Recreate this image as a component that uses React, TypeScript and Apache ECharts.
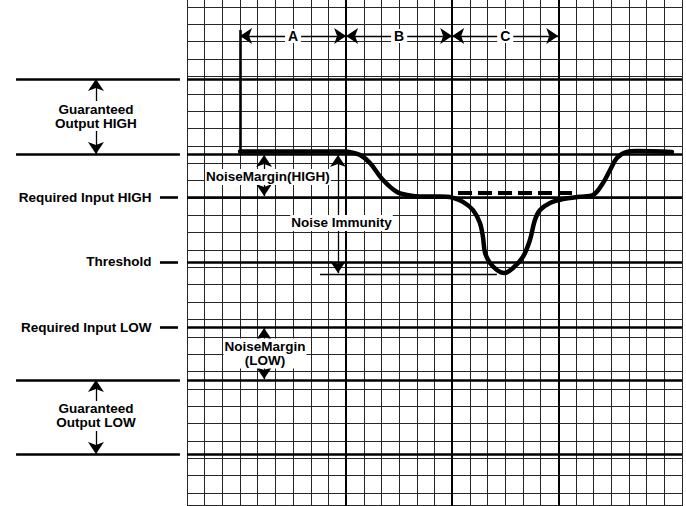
import React, { useEffect, useRef } from "react";
import * as echarts from "echarts";

// ---- axes (graph-paper units) ----
const X_MIN = 0;
const X_MAX = 28;
const Y_MIN = 0;
const Y_MAX = 28;
// paper continues a little beyond the axis range (top and bottom of page)
const PAPER_TOP = 28.41;
const PAPER_BOTTOM = -0.75;

// ---- logic levels (grid units) ----
const levelY = [23.85, 19.53, 17.05, 13.31, 9.56, 6.51, 2.25];
const levelKind = ["long", "long", "short", "short", "short", "long", "long"];
const levelLabels = ["", "", "Required Input HIGH", "Threshold", "Required Input LOW", "", ""];

// ---- timing phases ----
const phaseBounds = [3, 9, 15, 21];
const phaseLabels = ["A", "B", "C"];
const phaseArrowY = 26.33;
const markerTopY = 26.67;

// ---- signal waveform ----
const waveX = [3, 9, 9.22, 9.79, 10.35, 11.09, 11.88, 12.61, 13.18, 14.31, 15, 15.61, 16.18, 16.57, 16.74, 16.86, 17.14, 17.53, 17.93, 18.44, 19.0, 19.4, 19.68, 19.97, 20.53, 21.27, 22.23, 22.96, 23.53, 23.93, 24.32, 24.89, 25.45, 27.43];
const waveY = [19.68, 19.68, 19.64, 19.47, 19.01, 18.03, 17.34, 17.14, 17.08, 17.08, 17.02, 16.77, 16.3, 15.56, 14.75, 13.83, 13.25, 12.85, 12.67, 12.96, 13.6, 14.58, 15.73, 16.3, 16.71, 16.94, 17.07, 17.17, 17.86, 18.61, 19.3, 19.65, 19.7, 19.65];

// ---- reference dashed level during C and noise-immunity floor ----
const dashX = [15.33, 22.06];
const dashY = 17.28;
const floorX = [7.52, 17.53];
const floorY = 12.62;

// ---- annotations ----
const bandLabels = ["Guaranteed\nOutput HIGH", "Guaranteed\nOutput LOW"];
const bandArrowX = -5.15;
const bandTop = [23.85, 6.51];
const bandBottom = [19.53, 2.25];
const bandTextY = [21.72, 4.44];

const marginLabels = ["NoiseMargin(HIGH)", "Noise Immunity", "NoiseMargin\n(LOW)"];
const marginArrowX = [4.36, 8.54, 4.36];
const marginArrowTop = [19.47, 19.47, 9.5];
const marginArrowBottom = [17.11, 12.67, 6.57];
const marginTextX = [4.58, 8.74, 4.41];
const marginTextY = [18.21, 15.56, 8.04];

const LONG_LINE_X = [-9.67, -0.4];
const SHORT_DASH_X = [-1.53, -0.51];

const INK = "#000";
const FONT = "'Liberation Sans', Arial, Helvetica, sans-serif";

export default function App() {
  const ref = useRef<HTMLDivElement>(null);

  useEffect(() => {
    if (!ref.current) return;
    const chart = echarts.init(ref.current, undefined, { renderer: "svg" });

    const seg = (a: number[], b: number[]) => ({ coords: [a, b] });

    // paper extension beyond the axis range
    const paperExt: any[] = [];
    for (let x = X_MIN; x <= X_MAX; x++) {
      paperExt.push(seg([x, Y_MAX], [x, PAPER_TOP]));
      paperExt.push(seg([x, PAPER_BOTTOM], [x, Y_MIN]));
    }
    paperExt.push(seg([X_MIN, PAPER_BOTTOM + 0.04], [X_MAX, PAPER_BOTTOM + 0.04]));

    const dividerSegs = phaseBounds.slice(1).map((x) => seg([x, PAPER_BOTTOM], [x, PAPER_TOP]));
    const levelGridSegs = levelY.map((y) => seg([X_MIN, y], [X_MAX, y]));
    const leftSegs = levelY.map((y, i) =>
      levelKind[i] === "long" ? seg([LONG_LINE_X[0], y], [LONG_LINE_X[1], y]) : seg([SHORT_DASH_X[0], y], [SHORT_DASH_X[1], y])
    );
    const phaseArrowSegs = phaseLabels.map((_, i) => seg([phaseBounds[i], phaseArrowY], [phaseBounds[i + 1], phaseArrowY]));
    const bandArrowSegs = bandLabels.map((_, i) => seg([bandArrowX, bandTop[i]], [bandArrowX, bandBottom[i]]));
    const marginArrowSegs = marginLabels.map((_, i) => seg([marginArrowX[i], marginArrowTop[i]], [marginArrowX[i], marginArrowBottom[i]]));

    const baseLabel = {
      show: true,
      fontFamily: FONT,
      fontWeight: "bold" as const,
      fontSize: 13.5,
      lineHeight: 14,
      color: INK,
      opacity: 1,
    };

    const textData: any[] = [];
    phaseLabels.forEach((t, i) => {
      textData.push({
        value: [(phaseBounds[i] + phaseBounds[i + 1]) / 2, phaseArrowY],
        label: { ...baseLabel, fontSize: 14, formatter: t, position: "inside", backgroundColor: "#fff", padding: [0, 3] },
      });
    });
    bandLabels.forEach((t, i) => {
      textData.push({
        value: [bandArrowX, bandTextY[i]],
        label: { ...baseLabel, formatter: t, position: "inside", align: "center", backgroundColor: "#fff", padding: [1, 2] },
      });
    });
    marginLabels.forEach((t, i) => {
      textData.push({
        value: [marginTextX[i], marginTextY[i]],
        label: { ...baseLabel, formatter: t, position: "inside", align: "center", backgroundColor: "#fff", padding: [1, 1] },
      });
    });
    levelLabels.forEach((t, i) => {
      if (!t) return;
      textData.push({
        value: [SHORT_DASH_X[0], levelY[i]],
        label: { ...baseLabel, formatter: t, position: "left", distance: 8 },
      });
    });

    const lineStyle = (w: number, color = INK) => ({ color, width: w, opacity: 1, curveness: 0 });
    const GRID_INK = "#262626";

    chart.setOption({
      animation: false,
      backgroundColor: "#fff",
      grid: { left: 187, width: 495, top: 7, height: 486, containLabel: false },
      xAxis: {
        type: "value",
        min: X_MIN,
        max: X_MAX,
        interval: 1,
        axisLine: { show: false },
        axisTick: { show: false },
        axisLabel: { show: false },
        splitLine: { show: true, lineStyle: { color: GRID_INK, width: 1 } },
      },
      yAxis: {
        type: "value",
        min: Y_MIN,
        max: Y_MAX,
        interval: 1,
        axisLine: { show: false },
        axisTick: { show: false },
        axisLabel: { show: false },
        splitLine: { show: true, lineStyle: { color: GRID_INK, width: 1 } },
      },
      series: [
        { type: "lines", coordinateSystem: "cartesian2d", clip: false, z: 1, symbol: "none", lineStyle: lineStyle(1, GRID_INK), data: paperExt },
        { type: "lines", coordinateSystem: "cartesian2d", clip: false, z: 2, symbol: "none", lineStyle: lineStyle(2), data: dividerSegs },
        { type: "lines", coordinateSystem: "cartesian2d", clip: false, z: 2, symbol: "none", lineStyle: lineStyle(2.6), data: levelGridSegs },
        { type: "lines", coordinateSystem: "cartesian2d", clip: false, z: 2, symbol: "none", lineStyle: lineStyle(2.6), data: leftSegs },
        {
          type: "lines", coordinateSystem: "cartesian2d", clip: false, z: 3, symbol: "none", lineStyle: lineStyle(2.6),
          data: [seg([phaseBounds[0], markerTopY], [phaseBounds[0], waveY[0]])],
        },
        {
          type: "lines", coordinateSystem: "cartesian2d", clip: false, z: 3, symbol: "none", lineStyle: lineStyle(1.3),
          data: [seg([floorX[0], floorY], [floorX[1], floorY])],
        },
        {
          type: "lines", coordinateSystem: "cartesian2d", clip: false, z: 5, symbol: "none",
          lineStyle: { color: INK, width: 4, opacity: 1, type: [14, 6], cap: "butt", curveness: 0 },
          data: [seg([dashX[0], dashY], [dashX[1], dashY])],
        },
        {
          type: "lines", coordinateSystem: "cartesian2d", clip: false, z: 6,
          symbol: ["arrow", "arrow"], symbolSize: 12, lineStyle: lineStyle(1.3),
          data: [...phaseArrowSegs, ...bandArrowSegs, ...marginArrowSegs],
        },
        {
          type: "line", clip: false, z: 5, smooth: 0.35, showSymbol: false, symbol: "none",
          lineStyle: { color: INK, width: 4.5, cap: "round", join: "round" },
          data: waveX.map((x, i) => [x, waveY[i]]),
        },
        {
          type: "scatter", clip: false, z: 10, symbol: "circle", symbolSize: 1,
          itemStyle: { color: "rgba(0,0,0,0)" },
          data: textData,
        },
      ],
    });

    return () => chart.dispose();
  }, []);

  return <div ref={ref} style={{ position: "absolute", left: 0, top: 0, width: 686, height: 506 }} />;
}
